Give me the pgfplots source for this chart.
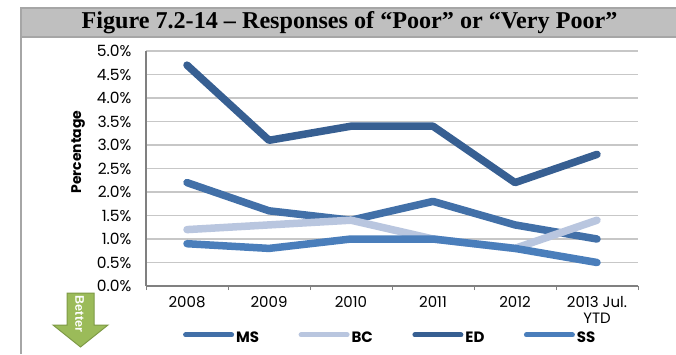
\documentclass[border=0pt]{standalone}
\usepackage{pgfplots}
\pgfplotsset{compat=1.18}
\usepackage{fontspec}
\setmainfont{Poppins}
\newfontfamily\titlefont{Liberation Serif}
\newfontfamily\arrowfont{Liberation Sans}
\definecolor{msc}{HTML}{4270A8}
\definecolor{bcc}{HTML}{B9C6DF}
\definecolor{edc}{HTML}{375F92}
\definecolor{ssc}{HTML}{4A7EBB}
\definecolor{arrowfill}{HTML}{9BBB59}
\definecolor{arrowdraw}{HTML}{7E9A46}
\begin{document}
\begin{tikzpicture}[x=1pt,y=1pt]
\useasboundingbox (0,0) rectangle (676,354);
% frame and title bar
\fill[white] (0,0) rectangle (676,354);
\fill[black!25] (20,317) rectangle (676,345);
\draw[color=black!35,line width=2pt] (20.5,0) -- (20.5,346) -- (676,346);
\draw[color=black!35,line width=2pt] (20.5,317) -- (676,317);
\node[font=\titlefont\bfseries\fontsize{24.15}{26}\selectfont,anchor=center] at (349.5,331) {Figure 7.2-14 – Responses of “Poor” or “Very Poor”};
\begin{axis}[
  at={(146pt,68pt)},anchor=south west,
  scale only axis,width=492pt,height=235pt,
  xmin=-0.5,xmax=5.5,ymin=0,ymax=5,
  axis lines=left,
  axis line style={-,draw=black!50,line width=1.5pt},
  ytick={0,0.5,...,5},
  xtick={0,1,2,3,4,5},
  xticklabels={2008,2009,2010,2011,2012,{2013 Jul.\\YTD}},
  minor xtick={-0.5,0.5,1.5,2.5,3.5,4.5,5.5},
  major tick length=0pt,
  minor tick length=4pt,
  ytick style={draw=none},
  extra y ticks={0,0.5,1,1.5,2,2.5,3,3.5,4,4.5,5},
  extra y tick labels={},
  extra y tick style={grid=none,major tick length=4.5pt,tick style={draw=black!50,line width=1pt}},
  minor tick style={draw=black!50,line width=1pt},
  tick align=outside,
  ymajorgrids,
  grid style={draw=black!22,line width=1.3pt},
  yticklabel={\pgfmathprintnumber[fixed,fixed zerofill,precision=1,assume math mode=true]{\tick}\%},
  yticklabel style={font=\fontsize{15.5}{17}\selectfont,anchor=east,xshift=-11pt},
  xticklabel style={font=\fontsize{15}{16}\selectfont,align=center,anchor=north,yshift=-7pt},
  ylabel={\bfseries Percentage},
  every axis y label/.style={at={(axis description cs:-0.138,0.57)},rotate=90,anchor=center,font=\fontsize{14}{16}\selectfont},
  legend columns=4,
  legend style={at={(axis description cs:0.075,-0.222)},anchor=west,draw=none,fill=none,font=\bfseries\fontsize{15}{17}\selectfont,inner sep=0pt,
    /tikz/every even column/.append style={column sep=37.5pt}},
  legend cell align=left,
  legend image code/.code={\draw[#1,line width=5pt,line cap=round] (0,0.32em) -- (46pt,0.32em);},
  every axis plot/.append style={line width=7.5pt,line cap=round,line join=round,no markers},
]
\addplot[msc] coordinates {(0,2.2)(1,1.6)(2,1.4)(3,1.8)(4,1.3)(5,1.0)};
\addlegendentry{MS}
\addplot[bcc] coordinates {(0,1.2)(1,1.3)(2,1.4)(3,1.0)(4,0.8)(5,1.4)};
\addlegendentry{BC}
\addplot[edc] coordinates {(0,4.7)(1,3.1)(2,3.4)(3,3.4)(4,2.2)(5,2.8)};
\addlegendentry{ED}
\addplot[ssc] coordinates {(0,0.9)(1,0.8)(2,1.0)(3,1.0)(4,0.8)(5,0.5)};
\addlegendentry{SS}
\end{axis}
% better arrow
\filldraw[fill=arrowfill,draw=arrowdraw,line width=1pt]
  (67,61) -- (94,61) -- (94,29) -- (108,29) -- (80.5,7) -- (53,29) -- (67,29) -- cycle;
\node[rotate=-90,text=white,font=\arrowfont\bfseries\fontsize{12.5}{14}\selectfont] at (79.5,40) {Better};
\end{tikzpicture}
\end{document}
